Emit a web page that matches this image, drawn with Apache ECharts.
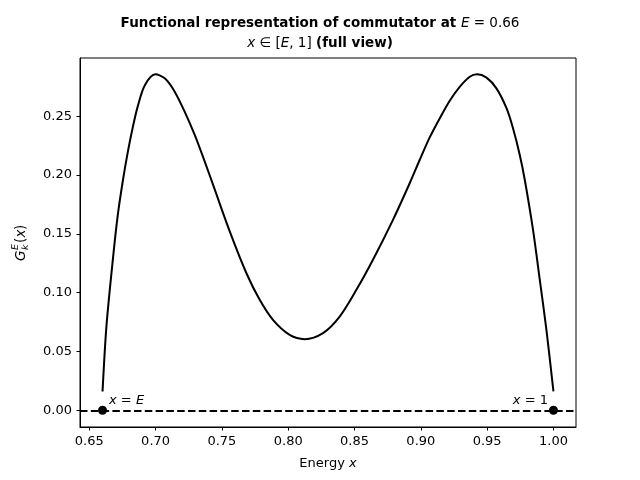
<!DOCTYPE html>
<html lang="en">
<head>
  <meta charset="utf-8">
  <style>
    html, body { margin: 0; padding: 0; background: #fff; }
    #container { width: 640px; height: 480px; }
  </style>
  <title>Functional representation of commutator</title>
</head>
<body>
  <div id="container"></div>
  <script src="https://cdn.jsdelivr.net/npm/echarts@6.0.0/dist/echarts.min.js"></script>
  <script>
    // curve G_k^E(x)
    var curveX = [0.660, 0.6629, 0.6679, 0.6716, 0.6754, 0.6792, 0.6830, 0.6867, 0.6918, 0.6998,
                  0.7069, 0.7144, 0.7219, 0.7295, 0.7370, 0.7433, 0.7559, 0.7685, 0.7785, 0.7885,
                  0.8011, 0.8124, 0.8262, 0.8388, 0.8514, 0.8640, 0.8790, 0.8916, 0.8992, 0.9067,
                  0.9143, 0.9218, 0.9293, 0.9369, 0.9424, 0.9495, 0.9570, 0.9646, 0.9695, 0.9746,
                  0.9784, 0.9846, 0.9897, 0.9947, 1.000];
    var curveY = [0.0160, 0.0709, 0.1296, 0.1669, 0.1958, 0.2205, 0.2417, 0.2590, 0.2762, 0.2856,
                  0.2822, 0.2709, 0.2539, 0.2341, 0.2116, 0.1918, 0.1521, 0.1165, 0.0939, 0.0769,
                  0.0641, 0.0605, 0.0656, 0.0797, 0.1024, 0.1282, 0.1619, 0.1930, 0.2130, 0.2320,
                  0.2483, 0.2632, 0.2750, 0.2836, 0.2856, 0.2828, 0.2737, 0.2568, 0.2398, 0.2171,
                  0.1958, 0.1534, 0.1109, 0.0684, 0.0160];

    // end points E and 1
    var endX = [0.66, 1.0];
    var endY = [0, 0];
    var endLabels = ['{i|x}{m| = }{i|E}', '{i|x}{m| = 1}'];

    var xTicks = [0.65, 0.70, 0.75, 0.80, 0.85, 0.90, 0.95, 1.00];
    var yTicks = [0.00, 0.05, 0.10, 0.15, 0.20, 0.25];

    var FONT = 'DejaVu Sans';
    var mathRich = {
      i: { fontFamily: FONT, fontStyle: 'italic', fontSize: 13, color: '#000' },
      m: { fontFamily: FONT, fontSize: 13, color: '#000' }
    };

    var chart = echarts.init(document.getElementById('container'));

    var option = {
      animation: false,
      backgroundColor: '#fff',
      title: {
        left: 'center',
        top: 8,
        text: '{b|Functional representation of commutator at }{i|E}{m| = 0.66}\n' +
              '{i|x}{m| ∈ [}{i|E}{m|, 1] }{b|(full view)}',
        textStyle: {
          fontWeight: 'normal',
          rich: {
            b: { fontFamily: FONT, fontWeight: 'bold', fontSize: 13.5, color: '#000', lineHeight: 20 },
            i: { fontFamily: FONT, fontWeight: 'normal', fontStyle: 'italic', fontSize: 13.5, color: '#000', lineHeight: 20 },
            m: { fontFamily: FONT, fontWeight: 'normal', fontSize: 13.5, color: '#000', lineHeight: 20 }
          }
        }
      },
      grid: {
        left: 80, right: 64, top: 58, bottom: 53,
        show: true, borderColor: '#000', borderWidth: 1, backgroundColor: 'transparent'
      },
      xAxis: {
        type: 'value',
        min: 0.643, max: 1.017,
        name: '{m|Energy }{i|x}',
        nameLocation: 'middle',
        nameGap: 30,
        nameTextStyle: { rich: mathRich },
        splitLine: { show: false },
        axisLine: { show: true, onZero: false, lineStyle: { color: '#000', width: 1 } },
        axisTick: { show: true, length: 3.5, customValues: xTicks, lineStyle: { color: '#000' } },
        axisLabel: {
          customValues: xTicks, margin: 8, color: '#000', fontFamily: FONT, fontSize: 13,
          formatter: function (v) { return v.toFixed(2); }
        }
      },
      yAxis: {
        type: 'value',
        min: -0.0142, max: 0.2995,
        splitLine: { show: false },
        axisLine: { show: true, onZero: false, lineStyle: { color: '#000', width: 1 } },
        axisTick: { show: true, length: 3.5, customValues: yTicks, lineStyle: { color: '#000' } },
        axisLabel: {
          customValues: yTicks, margin: 8, color: '#000', fontFamily: FONT, fontSize: 13,
          formatter: function (v) { return v.toFixed(2); }
        }
      },
      graphic: [{
        type: 'group',
        x: 21, y: 243,
        rotation: Math.PI / 2,
        children: [
          { type: 'text', x: -18, y: 0, style: { text: 'G', fontFamily: FONT, fontStyle: 'italic', fontSize: 13.5, fill: '#000', verticalAlign: 'middle' } },
          { type: 'text', x: -7, y: -5, style: { text: 'E', fontFamily: FONT, fontStyle: 'italic', fontSize: 9.5, fill: '#000', verticalAlign: 'middle' } },
          { type: 'text', x: -7, y: 4.5, style: { text: 'k', fontFamily: FONT, fontStyle: 'italic', fontSize: 9.5, fill: '#000', verticalAlign: 'middle' } },
          { type: 'text', x: 0, y: 0, style: { text: '(', fontFamily: FONT, fontSize: 13.5, fill: '#000', verticalAlign: 'middle' } },
          { type: 'text', x: 5.5, y: 0, style: { text: 'x', fontFamily: FONT, fontStyle: 'italic', fontSize: 13.5, fill: '#000', verticalAlign: 'middle' } },
          { type: 'text', x: 13, y: 0, style: { text: ')', fontFamily: FONT, fontSize: 13.5, fill: '#000', verticalAlign: 'middle' } }
        ]
      }],
      series: [
        {
          type: 'line',
          data: curveX.map(function (x, i) { return [x, curveY[i]]; }),
          smooth: 0.3,
          showSymbol: false,
          lineStyle: { color: '#000', width: 2 },
          z: 3,
          markLine: {
            silent: true,
            symbol: 'none',
            label: { show: false },
            lineStyle: { color: '#000', width: 2, type: [7.5, 3.3] },
            data: [{ yAxis: 0 }]
          }
        },
        {
          type: 'scatter',
          data: endX.map(function (x, i) { return [x, endY[i]]; }),
          symbol: 'circle',
          symbolSize: 9,
          itemStyle: { color: '#000', opacity: 1 },
          z: 5,
          label: {
            show: true,
            color: '#000',
            formatter: function (p) { return endLabels[p.dataIndex]; },
            rich: mathRich
          },
          labelLayout: function (params) {
            var r = params.rect;
            var cy = r.y + r.height / 2 - 10;
            if (params.dataIndex === 1) {
              return { x: r.x - 1, y: cy, align: 'right', verticalAlign: 'middle' };
            }
            return { x: r.x + r.width + 2, y: cy, align: 'left', verticalAlign: 'middle' };
          }
        }
      ]
    };

    chart.setOption(option);
  </script>
</body>
</html>
